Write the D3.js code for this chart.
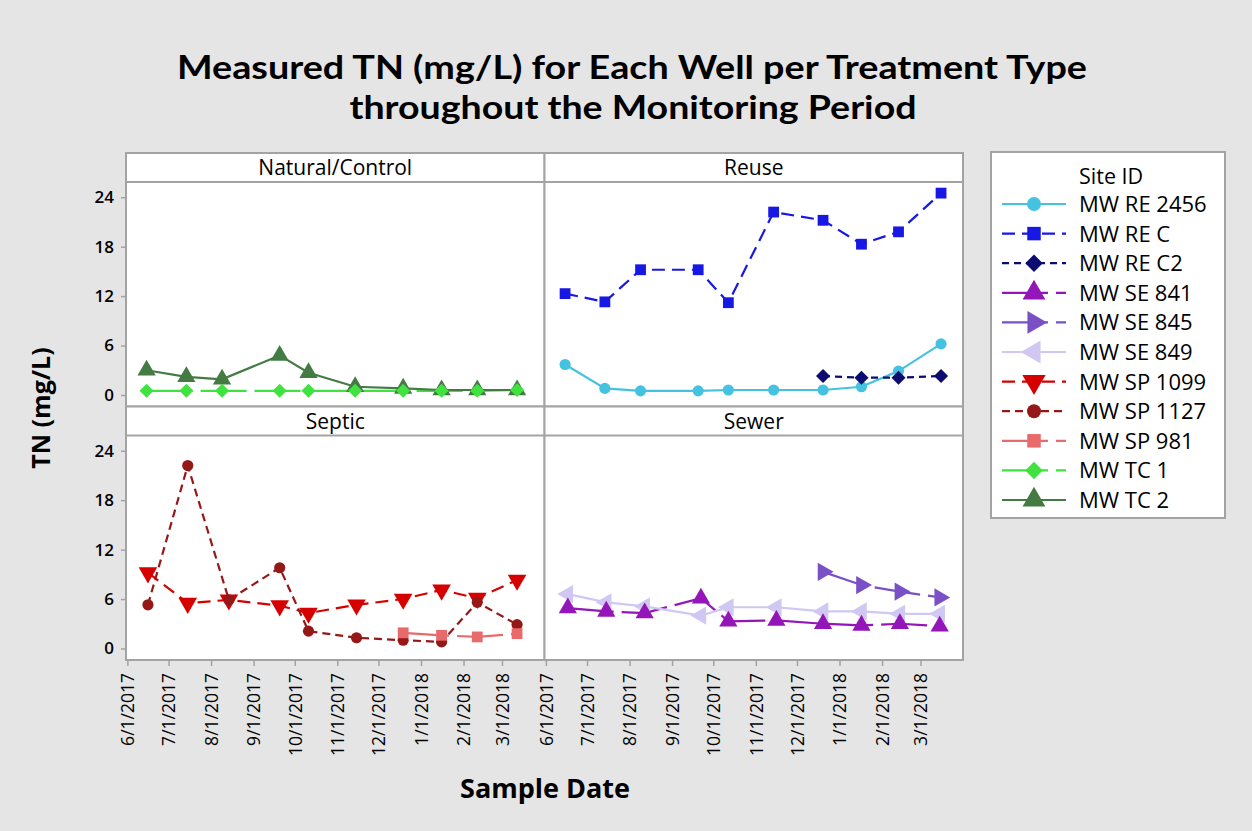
<!DOCTYPE html>
<html><head><meta charset="utf-8">
<script src="https://cdn.jsdelivr.net/npm/d3@7"></script>
<style>
body{margin:0;background:#e5e5e5;}
svg{display:block;font-family:"Open Sans","Noto Sans",sans-serif;}
</style>
</head><body>
<svg id="chart" width="1252" height="831"></svg>
<script>
// ---------------- DATA ----------------
const panelNames = ["Natural/Control", "Reuse", "Septic", "Sewer"];
const xTickLabels = ["6/1/2017","7/1/2017","8/1/2017","9/1/2017","10/1/2017","11/1/2017","12/1/2017","1/1/2018","2/1/2018","3/1/2018"];
const yTickValues = [0, 6, 12, 18, 24];
const siteIds = ["MW RE 2456","MW RE C","MW RE C2","MW SE 841","MW SE 845","MW SE 849","MW SP 1099","MW SP 1127","MW SP 981","MW TC 1","MW TC 2"];

const naturalDates = ["2017-06-15","2017-07-14","2017-08-09","2017-09-20","2017-10-11","2017-11-14","2017-12-19","2018-01-16","2018-02-11","2018-03-12"];
const reuseDates   = ["2017-06-15","2017-07-14","2017-08-09","2017-09-20","2017-10-12","2017-11-14","2017-12-20","2018-01-17","2018-02-13","2018-03-16"];
const septicDates  = ["2017-06-16","2017-07-15","2017-08-14","2017-09-20","2017-10-11","2017-11-15","2017-12-19","2018-01-16","2018-02-11","2018-03-12"];
const sewerDates   = ["2017-06-17","2017-07-15","2017-08-12","2017-09-22","2017-10-12","2017-11-16","2017-12-20","2018-01-17","2018-02-14","2018-03-15"];

const tnRE2456 = [3.7, 0.8, 0.5, 0.5, 0.6, 0.6, 0.6, 1.0, 2.9, 6.2];
const tnREC    = [12.3, 11.3, 15.2, 15.2, 11.2, 22.2, 21.2, 18.3, 19.8, 24.5];
const tnREC2   = [2.3, 2.1, 2.1, 2.3];          // last four reuse dates
const tnSE841  = [4.9, 4.5, 4.3, 6.1, 3.3, 3.4, 3.0, 2.8, 3.0, 2.7];
const tnSE845  = [9.3, 7.7, 6.9, 6.2];          // last four sewer dates
const tnSE849  = [6.6, 5.6, 5.1, 4.0, 5.0, 5.0, 4.5, 4.5, 4.2, 4.2];
const tnSP1099 = [9.2, 5.5, 5.9, 5.2, 4.3, 5.3, 6.0, 7.1, 6.1, 8.3];
const tnSP1127 = [5.3, 22.2, 5.9, 9.8, 2.1, 1.3, 1.0, 0.8, 5.6, 2.9];
const tnSP981  = [1.9, 1.6, 1.4, 1.8];          // last four septic dates
const tnTC1    = [0.5, 0.5, 0.5, 0.5, 0.5, 0.5, 0.5, 0.5, 0.5, 0.6];
const tnTC2    = [3.0, 2.2, 1.9, 4.8, 2.7, 1.0, 0.8, 0.6, 0.6, 0.6];

// ---------------- STYLE ----------------
const siteColors = ["#45c2e0","#1818e4","#0b0b70","#9415b8","#7a50c6","#d0c8f2","#d60000","#951818","#e86a6a","#3fe23f","#437b43"];
const siteDash   = ["none","13,7","7,5","46,8","46,8","none","13,7","8,5","46,8","46,8","none"];
const siteShape  = ["circle","square","diamond","up","right","left","down","circle","square","diamond","up"];
const sitePanel  = [1,1,1,3,3,3,2,2,2,0,0];
const titleLines = ["Measured TN (mg/L) for Each Well per Treatment Type", "throughout the Monitoring Period"];

const parse = d3.timeParse("%Y-%m-%d");
const parseTick = d3.timeParse("%m/%d/%Y");
const lastN = (arr, n) => arr.slice(arr.length - n);

const seriesDates = [reuseDates, reuseDates, lastN(reuseDates,4), sewerDates, lastN(sewerDates,4), sewerDates,
                     septicDates, septicDates, lastN(septicDates,4), naturalDates, naturalDates];
const seriesVals  = [tnRE2456, tnREC, tnREC2, tnSE841, tnSE845, tnSE849, tnSP1099, tnSP1127, tnSP981, tnTC1, tnTC2];

const series = siteIds.map((id, i) => ({
  id, color: siteColors[i], dash: siteDash[i], shape: siteShape[i], panel: sitePanel[i],
  pts: seriesVals[i].map((v, j) => ({date: parse(seriesDates[i][j]), v}))
}));

// ---------------- LAYOUT ----------------
const svg = d3.select("#chart");
const gridLeft = 126, gridTop = 153, panelW = 418.5, stripH = 29, plotH = 224.5;
const frameColor = "#a3a3a3";

const x = d3.scaleTime().domain([parse("2017-05-31"), parse("2018-04-01")]).range([0, panelW]);
const y = d3.scaleLinear().domain([-1.4, 25.85]).range([plotH, 0]);

function markerPath(shape, s) {
  const p = d3.path();
  if (shape === "circle") { p.arc(0, 0, s * 0.62, 0, 2 * Math.PI); }
  else if (shape === "square") { const h = s * 0.6; p.rect(-h, -h, 2 * h, 2 * h); }
  else if (shape === "diamond") { const h = s * 0.78; p.moveTo(0,-h); p.lineTo(h,0); p.lineTo(0,h); p.lineTo(-h,0); p.closePath(); }
  else {
    const a = s * 1.9, hh = a * Math.sqrt(3) / 2;
    let pts = [[0, -2*hh/3], [a/2, hh/3], [-a/2, hh/3]]; // up
    const rot = {up: 0, right: 90, down: 180, left: 270}[shape] * Math.PI / 180;
    pts = pts.map(([px, py]) => [px*Math.cos(rot) - py*Math.sin(rot), px*Math.sin(rot) + py*Math.cos(rot)]);
    p.moveTo(pts[0][0], pts[0][1]); p.lineTo(pts[1][0], pts[1][1]); p.lineTo(pts[2][0], pts[2][1]); p.closePath();
  }
  return p.toString();
}
const markerSize = {circle: 9, square: 9, diamond: 9, up: 9.6, down: 9.8, left: 9.6, right: 9.6};

// Title (Lato keeps line boxes compact; stretched to the reference line widths)
const title = svg.append("g").attr("font-family", "Lato, 'Open Sans', sans-serif").attr("font-weight", "bold")
  .attr("font-size", 33).attr("text-anchor", "middle").attr("fill", "#000");
title.append("text").attr("x", 632).attr("y", 78.5).attr("textLength", 910).attr("lengthAdjust", "spacingAndGlyphs").text(titleLines[0]);
title.append("text").attr("x", 633).attr("y", 118.5).attr("textLength", 567).attr("lengthAdjust", "spacingAndGlyphs").text(titleLines[1]);

// Panels
const panelG = [];
panelNames.forEach((name, i) => {
  const col = i % 2, row = Math.floor(i / 2);
  const px = gridLeft + col * panelW, py = gridTop + row * (stripH + plotH);
  const g = svg.append("g").attr("transform", `translate(${px},${py})`);
  g.append("rect").attr("width", panelW).attr("height", stripH + plotH).attr("fill", "#fff");
  g.append("text").attr("x", panelW / 2).attr("y", stripH / 2).attr("dy", "0.36em")
    .attr("text-anchor", "middle").attr("font-size", 21).attr("font-weight", 500).attr("fill", "#000").text(name);
  const plot = g.append("g").attr("transform", `translate(0,${stripH})`);
  panelG.push({g, plot, col, row, px, py});
});

// Frames
panelG.forEach(({g}) => {
  g.append("rect").attr("width", panelW).attr("height", stripH + plotH)
    .attr("fill", "none").attr("stroke", frameColor).attr("stroke-width", 2);
  g.append("line").attr("x1", 0).attr("x2", panelW).attr("y1", stripH).attr("y2", stripH)
    .attr("stroke", frameColor).attr("stroke-width", 2);
});

// Axes
panelG.forEach(({plot, col, row}) => {
  if (col === 0) {
    const ya = plot.append("g").call(d3.axisLeft(y).tickValues(yTickValues).tickSize(5).tickPadding(7));
    ya.select(".domain").remove();
    ya.selectAll("line").attr("stroke", frameColor).attr("stroke-width", 1.5);
    ya.selectAll("text").attr("font-size", 17).attr("font-weight", 600).attr("fill", "#000").attr("font-family", "Open Sans");
  }
  if (row === 1) {
    const xa = plot.append("g").attr("transform", `translate(0,${plotH})`)
      .call(d3.axisBottom(x).tickValues(xTickLabels.map(parseTick)).tickSize(6)
        .tickFormat((d, i) => xTickLabels[i]));
    xa.select(".domain").remove();
    xa.selectAll("line").attr("stroke", frameColor).attr("stroke-width", 1.5);
    xa.selectAll("text").attr("font-size", 17.5).attr("font-weight", 500).attr("fill", "#000").attr("font-family", "Open Sans")
      .attr("transform", "rotate(-90)").attr("text-anchor", "end")
      .attr("x", -13).attr("y", 0).attr("dy", "0.36em");
  }
});

// Lines
const line = d3.line().x(d => x(d.date)).y(d => y(d.v));
series.forEach(s => {
  panelG[s.panel].plot.append("path").datum(s.pts).attr("d", line)
    .attr("fill", "none").attr("stroke", s.color).attr("stroke-width", 2.2)
    .attr("stroke-dasharray", s.dash);
});
// Markers (TC 1 drawn last so its diamonds sit above TC 2)
const drawOrder = [0,1,2,5,3,4,6,7,8,10,9];
drawOrder.forEach(i => {
  const s = series[i];
  panelG[s.panel].plot.append("g").selectAll("path").data(s.pts).join("path")
    .attr("transform", d => `translate(${x(d.date)},${y(d.v)})`)
    .attr("d", markerPath(s.shape, markerSize[s.shape]))
    .attr("fill", s.color);
});

// Axis titles
svg.append("text").attr("transform", "translate(50,408) rotate(-90)").attr("text-anchor", "middle")
  .attr("font-size", 25).attr("font-weight", "bold").attr("fill", "#000").text("TN (mg/L)");
svg.append("text").attr("x", 545).attr("y", 798).attr("text-anchor", "middle")
  .attr("font-size", 27).attr("font-weight", "bold").attr("fill", "#000").text("Sample Date");

// Legend
const lg = svg.append("g").attr("transform", "translate(991,152)");
lg.append("rect").attr("width", 234).attr("height", 366).attr("fill", "#fff")
  .attr("stroke", frameColor).attr("stroke-width", 2);
lg.append("text").attr("x", 88).attr("y", 24).attr("dy", "0.36em").attr("font-size", 21.5).attr("font-weight", 500).attr("fill", "#000").text("Site ID");
series.forEach((s, i) => {
  const ly = 52 + i * 29.6;
  const e = lg.append("g").attr("transform", `translate(0,${ly})`);
  e.append("line").attr("x1", 11).attr("x2", 75).attr("stroke", s.color).attr("stroke-width", 2.2)
    .attr("stroke-dasharray", s.dash);
  e.append("path").attr("transform", "translate(43,0)").attr("d", markerPath(s.shape, markerSize[s.shape] * 1.25)).attr("fill", s.color);
  e.append("text").attr("x", 88).attr("dy", "0.36em").attr("font-size", 22).attr("font-weight", 500).attr("fill", "#000").text(s.id);
});
</script>
</body></html>
